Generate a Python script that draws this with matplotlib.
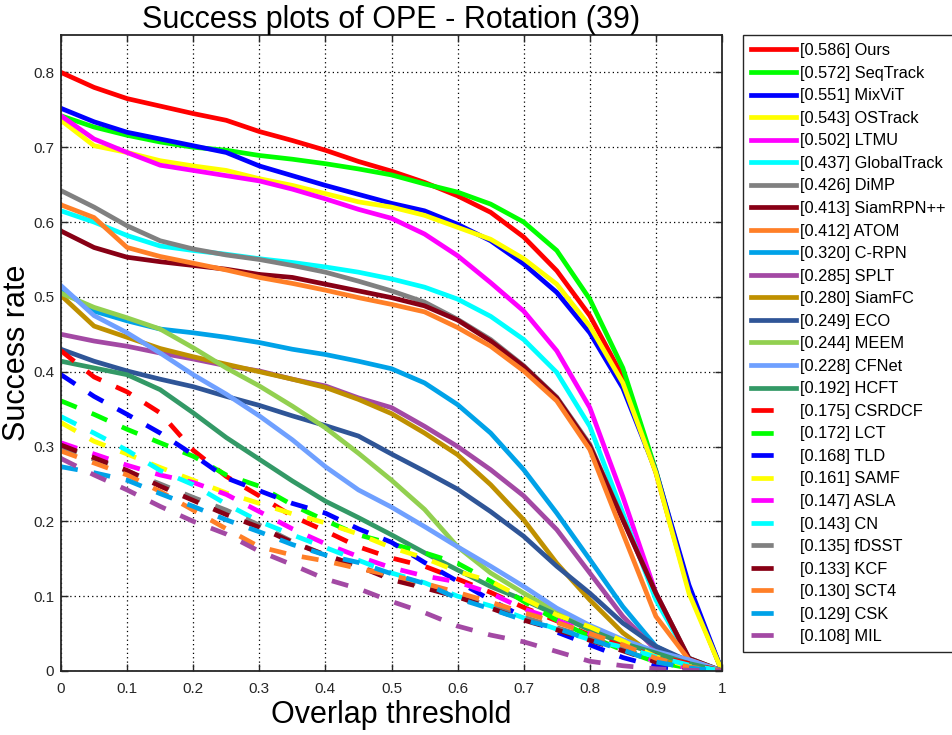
import numpy as np
import matplotlib
matplotlib.use('Agg')
import matplotlib.pyplot as plt

plt.rcParams['font.family'] = ['Liberation Sans', 'DejaVu Sans']

# overlap thresholds (x axis)
thresholds = [0.0, 0.05, 0.1, 0.15, 0.2, 0.25, 0.3, 0.35, 0.4, 0.45, 0.5,
              0.55, 0.6, 0.65, 0.7, 0.75, 0.8, 0.85, 0.9, 0.95, 1.0]

# success rates, one list per tracker
ours = [0.800, 0.780, 0.765, 0.755, 0.745, 0.736, 0.721, 0.709, 0.696, 0.681, 0.668,
        0.653, 0.635, 0.613, 0.580, 0.535, 0.475, 0.393, 0.265, 0.108, 0.0]
seqtrack = [0.742, 0.727, 0.716, 0.707, 0.700, 0.696, 0.689, 0.684, 0.678, 0.671, 0.663,
            0.651, 0.640, 0.624, 0.600, 0.562, 0.497, 0.405, 0.268, 0.110, 0.0]
mixvit = [0.752, 0.734, 0.720, 0.711, 0.702, 0.693, 0.675, 0.662, 0.649, 0.637, 0.625,
          0.615, 0.597, 0.575, 0.544, 0.506, 0.452, 0.378, 0.267, 0.115, 0.0]
ostrack = [0.736, 0.702, 0.693, 0.682, 0.675, 0.669, 0.658, 0.649, 0.638, 0.627, 0.620,
           0.609, 0.593, 0.577, 0.551, 0.517, 0.461, 0.385, 0.265, 0.104, 0.0]
ltmu = [0.742, 0.711, 0.693, 0.676, 0.669, 0.662, 0.655, 0.644, 0.631, 0.617, 0.605,
        0.584, 0.555, 0.519, 0.481, 0.428, 0.352, 0.233, 0.104, 0.015, 0.0]
globaltrack = [0.615, 0.600, 0.582, 0.568, 0.562, 0.557, 0.551, 0.546, 0.540, 0.533, 0.524,
               0.513, 0.497, 0.474, 0.443, 0.399, 0.327, 0.211, 0.095, 0.017, 0.0]
dimp = [0.642, 0.620, 0.595, 0.575, 0.564, 0.556, 0.550, 0.542, 0.533, 0.521, 0.508,
        0.493, 0.470, 0.443, 0.408, 0.366, 0.303, 0.203, 0.104, 0.017, 0.0]
siamrpnpp = [0.588, 0.566, 0.553, 0.547, 0.542, 0.537, 0.530, 0.526, 0.517, 0.508, 0.499,
             0.488, 0.469, 0.441, 0.407, 0.365, 0.301, 0.202, 0.104, 0.017, 0.0]
atom = [0.623, 0.606, 0.566, 0.554, 0.545, 0.536, 0.526, 0.518, 0.509, 0.499, 0.490,
        0.480, 0.459, 0.434, 0.401, 0.361, 0.296, 0.184, 0.073, 0.015, 0.0]
c_rpn = [0.510, 0.481, 0.468, 0.457, 0.452, 0.446, 0.439, 0.430, 0.423, 0.414, 0.404,
         0.385, 0.356, 0.318, 0.269, 0.211, 0.149, 0.086, 0.033, 0.010, 0.0]
splt = [0.450, 0.441, 0.434, 0.425, 0.417, 0.408, 0.401, 0.390, 0.381, 0.365, 0.352,
        0.327, 0.300, 0.269, 0.234, 0.189, 0.131, 0.073, 0.028, 0.008, 0.0]
siamfc = [0.502, 0.461, 0.446, 0.431, 0.420, 0.410, 0.400, 0.390, 0.379, 0.363, 0.344,
          0.318, 0.289, 0.249, 0.202, 0.144, 0.095, 0.051, 0.019, 0.005, 0.0]
eco = [0.430, 0.414, 0.401, 0.390, 0.380, 0.367, 0.355, 0.341, 0.328, 0.314, 0.290,
       0.267, 0.243, 0.213, 0.180, 0.140, 0.104, 0.064, 0.033, 0.013, 0.0]
meem = [0.505, 0.486, 0.472, 0.457, 0.432, 0.405, 0.381, 0.354, 0.325, 0.291, 0.255,
        0.216, 0.166, 0.131, 0.104, 0.079, 0.057, 0.037, 0.024, 0.010, 0.0]
cfnet = [0.515, 0.475, 0.452, 0.425, 0.396, 0.370, 0.341, 0.309, 0.273, 0.242, 0.219,
         0.193, 0.166, 0.140, 0.113, 0.084, 0.061, 0.042, 0.026, 0.015, 0.0]
hcft = [0.414, 0.405, 0.396, 0.376, 0.345, 0.312, 0.283, 0.254, 0.227, 0.205, 0.182,
        0.158, 0.135, 0.113, 0.095, 0.075, 0.055, 0.037, 0.024, 0.010, 0.0]
csrdcf = [0.428, 0.393, 0.373, 0.345, 0.295, 0.260, 0.234, 0.207, 0.187, 0.166, 0.151,
          0.140, 0.123, 0.105, 0.085, 0.067, 0.048, 0.033, 0.020, 0.010, 0.0]
lct = [0.361, 0.343, 0.323, 0.305, 0.287, 0.262, 0.247, 0.222, 0.201, 0.182, 0.170,
       0.158, 0.144, 0.120, 0.093, 0.068, 0.046, 0.028, 0.012, 0.004, 0.0]
tld = [0.396, 0.367, 0.343, 0.318, 0.289, 0.258, 0.241, 0.224, 0.211, 0.190, 0.172,
       0.145, 0.120, 0.095, 0.072, 0.052, 0.035, 0.018, 0.006, 0.002, 0.0]
samf = [0.332, 0.307, 0.290, 0.272, 0.255, 0.238, 0.224, 0.210, 0.198, 0.183, 0.165,
        0.151, 0.133, 0.120, 0.097, 0.075, 0.059, 0.040, 0.019, 0.006, 0.0]
asla = [0.305, 0.290, 0.275, 0.262, 0.252, 0.236, 0.213, 0.190, 0.170, 0.153, 0.138,
        0.127, 0.119, 0.104, 0.083, 0.068, 0.050, 0.030, 0.013, 0.004, 0.0]
cn = [0.340, 0.318, 0.295, 0.268, 0.249, 0.223, 0.200, 0.182, 0.165, 0.148, 0.131,
      0.118, 0.100, 0.087, 0.071, 0.056, 0.042, 0.032, 0.019, 0.008, 0.0]
fdsst = [0.300, 0.283, 0.267, 0.250, 0.232, 0.215, 0.195, 0.173, 0.155, 0.140, 0.125,
         0.113, 0.100, 0.087, 0.072, 0.058, 0.044, 0.030, 0.015, 0.005, 0.0]
kcf = [0.302, 0.285, 0.268, 0.247, 0.228, 0.209, 0.192, 0.172, 0.155, 0.140, 0.122,
       0.111, 0.099, 0.084, 0.068, 0.055, 0.041, 0.027, 0.012, 0.004, 0.0]
sct4 = [0.294, 0.278, 0.262, 0.240, 0.215, 0.190, 0.166, 0.155, 0.147, 0.137, 0.128,
        0.117, 0.105, 0.092, 0.078, 0.065, 0.050, 0.035, 0.017, 0.005, 0.0]
csk = [0.273, 0.265, 0.255, 0.237, 0.220, 0.202, 0.186, 0.169, 0.155, 0.145, 0.130,
       0.117, 0.097, 0.083, 0.068, 0.057, 0.042, 0.028, 0.012, 0.004, 0.0]
mil = [0.284, 0.262, 0.242, 0.220, 0.200, 0.183, 0.160, 0.142, 0.123, 0.110, 0.093,
       0.078, 0.060, 0.048, 0.039, 0.026, 0.013, 0.007, 0.003, 0.001, 0.0]

names = ['Ours', 'SeqTrack', 'MixViT', 'OSTrack', 'LTMU', 'GlobalTrack', 'DiMP',
         'SiamRPN++', 'ATOM', 'C-RPN', 'SPLT', 'SiamFC', 'ECO', 'MEEM', 'CFNet',
         'HCFT', 'CSRDCF', 'LCT', 'TLD', 'SAMF', 'ASLA', 'CN', 'fDSST', 'KCF',
         'SCT4', 'CSK', 'MIL']
auc_scores = [0.586, 0.572, 0.551, 0.543, 0.502, 0.437, 0.426, 0.413, 0.412, 0.320,
              0.285, 0.280, 0.249, 0.244, 0.228, 0.192, 0.175, 0.172, 0.168, 0.161,
              0.147, 0.143, 0.135, 0.133, 0.130, 0.129, 0.108]
curves = [ours, seqtrack, mixvit, ostrack, ltmu, globaltrack, dimp, siamrpnpp, atom,
          c_rpn, splt, siamfc, eco, meem, cfnet, hcft, csrdcf, lct, tld, samf, asla,
          cn, fdsst, kcf, sct4, csk, mil]

# colour cycle used by the toolkit, first 11 repeat for the dashed ones
base_colors = ['#ff0000', '#00ff00', '#0000ff', '#ffff00', '#ff00ff', '#00ffff',
               '#808080', '#880015', '#ff7f27', '#00a2e8', '#a349a4']
extra_colors = ['#bf9000', '#2f5597', '#92d050', '#6fa0ff', '#339966']
colors = base_colors + extra_colors + base_colors
n_solid = 16


def main():
    fig = plt.figure(figsize=(9.52, 7.35), dpi=100)
    ax = fig.add_axes([61 / 952, 64 / 735, 661 / 952, 636 / 735])

    lw = 3.4
    for i, (name, auc, vals) in enumerate(zip(names, auc_scores, curves)):
        label = f"[{auc:.3f}] {name}"
        if i < n_solid:
            ax.plot(thresholds, vals, color=colors[i], lw=lw, label=label,
                    zorder=2 + i * 0.01)
        else:
            ax.plot(thresholds, vals, color=colors[i], lw=lw, label=label,
                    dashes=(3.6, 3.4), dash_capstyle='butt', zorder=2 + i * 0.01)

    ax.set_xlim(0, 1)
    ax.set_ylim(0, 0.85)
    ax.set_xticks(np.arange(0, 1.01, 0.1))
    ax.set_yticks(np.arange(0, 0.81, 0.1))
    ax.set_xticklabels(['0', '0.1', '0.2', '0.3', '0.4', '0.5', '0.6', '0.7', '0.8', '0.9', '1'])
    ax.set_yticklabels(['0', '0.1', '0.2', '0.3', '0.4', '0.5', '0.6', '0.7', '0.8'])
    ax.tick_params(direction='in', top=True, right=True, length=5, width=1,
                   labelsize=11, colors='#262626')
    ax.tick_params(axis='x', pad=8)
    ax.tick_params(axis='y', pad=5)
    ax.grid(True, color='black', linestyle=(0, (1, 2.5)), linewidth=0.9)
    for sp in ax.spines.values():
        sp.set_linewidth(1.3)
        sp.set_color('#262626')

    ax.set_title('Success plots of OPE - Rotation (39)', fontsize=22, pad=5)
    ax.set_xlabel('Overlap threshold', fontsize=22, labelpad=3)
    ax.set_ylabel('Success rate', fontsize=22, labelpad=1)

    leg = fig.legend(loc='upper left', bbox_to_anchor=(743 / 952, 1 - 35 / 735),
                     fontsize=11.8, handlelength=2.75, handletextpad=0.2,
                     labelspacing=0.46, borderpad=0.5, borderaxespad=0,
                     fancybox=False, framealpha=1, edgecolor='#262626')
    leg.get_frame().set_linewidth(1.0)
    # dashed entries show a single short dash in the legend
    for line in leg.get_lines()[n_solid:]:
        line.set_dashes((4.7, 20))

    fig.savefig('out.png', dpi=100)


if __name__ == "__main__":
    main()
